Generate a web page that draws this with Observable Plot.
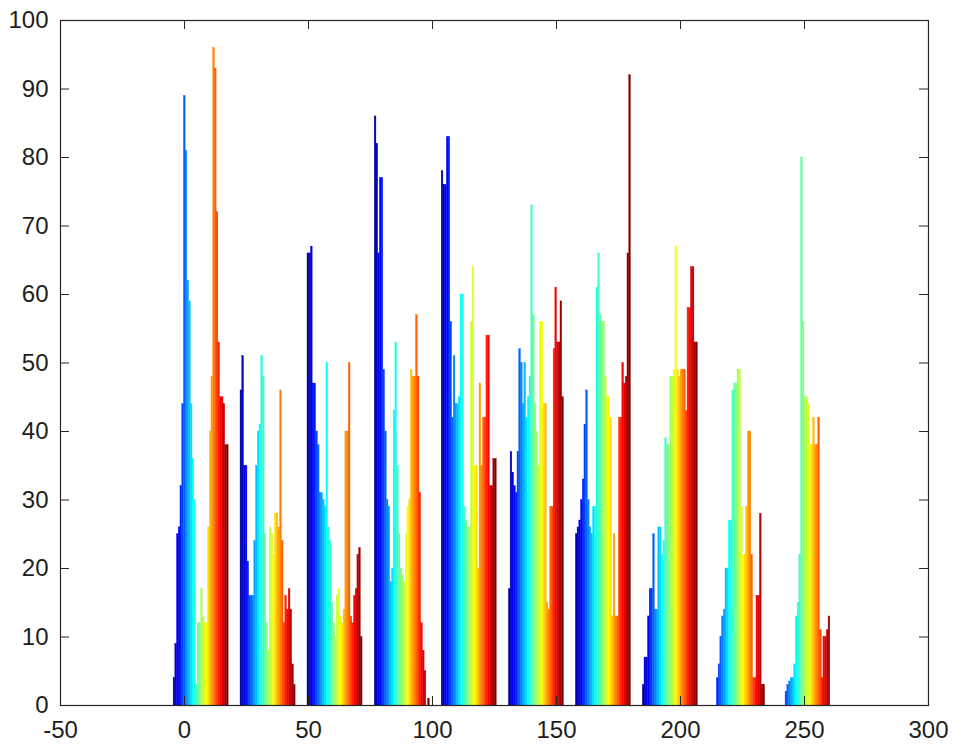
<!DOCTYPE html>
<html>
<head>
<meta charset="utf-8">
<script src="https://cdn.jsdelivr.net/npm/d3@7"></script>
<script src="https://cdn.jsdelivr.net/npm/@observablehq/plot@0.6"></script>
<style>
  html, body { margin: 0; padding: 0; background: #ffffff; }
  #chart svg { display: block; }
</style>
</head>
<body>
<div id="chart"></div>
<script>
// Tick labels
const xTicks = [-50, 0, 50, 100, 150, 200, 250, 300];
const yTicks = [0, 10, 20, 30, 40, 50, 60, 70, 80, 90, 100];

// Group positions on the x axis
const groupCenters = [6.7, 33.7, 60.7, 87.8, 114.8, 141.9, 168.9, 195.9, 223.0, 250.0];

// Bar heights: 32 series per group (series 1..32, coloured by jet)
const g1  = [4, 9, 25, 26, 32, 44, 89, 81, 62, 59, 44, 36, 30, 3, 12, 12, 17, 13, 12, 12, 26, 40, 48, 96, 93, 72, 53, 45, 45, 44, 38, 38];
const g2  = [46, 51, 35, 35, 21, 16, 16, 16, 24, 35, 40, 41, 51, 48, 25, 12, 8, 26, 25, 22, 28, 28, 26, 46, 24, 12, 16, 14, 17, 14, 6, 3];
const g3  = [66, 66, 67, 47, 47, 40, 38, 31, 31, 30, 29, 50, 26, 24, 15, 12, 10, 16, 17, 13, 12, 14, 40, 40, 50, 13, 12, 16, 17, 22, 23, 10];
const g4  = [86, 82, 66, 77, 77, 49, 40, 30, 29, 18, 20, 43, 53, 35, 25, 20, 19, 18, 25, 29, 30, 49, 48, 48, 57, 48, 31, 12, 8, 5, 0, 1];
const g5  = [78, 76, 76, 83, 83, 56, 42, 51, 44, 44, 45, 60, 60, 29, 27, 26, 26, 56, 64, 35, 35, 20, 47, 35, 42, 42, 54, 54, 32, 32, 36, 36];
const g6  = [17, 37, 34, 32, 31, 37, 52, 50, 44, 50, 42, 45, 48, 73, 57, 44, 40, 35, 56, 56, 44, 44, 15, 14, 29, 29, 52, 61, 53, 53, 59, 45];
const g7  = [25, 26, 27, 30, 33, 41, 46, 30, 26, 25, 29, 29, 61, 66, 57, 56, 56, 48, 45, 45, 42, 13, 25, 13, 13, 42, 42, 50, 47, 48, 66, 92];
const g8  = [3, 7, 7, 13, 17, 17, 25, 14, 14, 26, 26, 22, 24, 39, 38, 38, 48, 48, 49, 67, 49, 48, 49, 49, 49, 43, 58, 58, 64, 64, 53, 53];
const g9  = [0, 0, 0, 0, 4, 6, 10, 13, 14, 20, 20, 27, 27, 46, 47, 47, 49, 49, 29, 22, 22, 29, 40, 40, 22, 4, 4, 16, 16, 28, 3, 3];
const g10 = [0, 0, 0, 0, 0, 2, 3, 3.5, 4, 4, 6, 13, 15, 22, 80, 56, 45, 45, 44, 38, 38, 42, 38, 38, 42, 11, 4, 10, 10, 11, 13, 0];

const groups = [g1, g2, g3, g4, g5, g6, g7, g8, g9, g10];
const nSeries = 32;
const groupWidth = 22.2;
const barWidth = groupWidth / nSeries;

const data = groups.flatMap((vals, k) => vals.map((v, i) => ({k, i, v})));

// MATLAB "jet" colormap
function jet(t) {
  const c = x => Math.max(0, Math.min(1, x));
  const r = c(Math.min(4 * t - 1.5, -4 * t + 4.5));
  const g = c(Math.min(4 * t - 0.5, -4 * t + 3.5));
  const b = c(Math.min(4 * t + 0.5, -4 * t + 2.5));
  return `rgb(${Math.round(r * 255)},${Math.round(g * 255)},${Math.round(b * 255)})`;
}

const W = 962, H = 751;
const mL = 60, mR = 34, mT = 20, mB = 46;
const innerW = W - mL - mR, innerH = H - mT - mB;
const tickLen = 9;

const chart = Plot.plot({
  width: W,
  height: H,
  marginLeft: mL,
  marginRight: mR,
  marginTop: mT,
  marginBottom: mB,
  style: {fontFamily: "'Liberation Sans', Arial, sans-serif", fontSize: "24px", color: "#1e1e1e", background: "#ffffff"},
  x: {domain: [-50, 300], ticks: xTicks, tickSize: 0, tickPadding: 15, tickFormat: d => String(d), label: null},
  y: {domain: [0, 100], ticks: yTicks, tickSize: 0, tickPadding: 12, tickFormat: d => String(d), label: null},
  color: {type: "linear", domain: [-1, nSeries - 1], interpolate: jet},
  marks: [
    Plot.rectY(data, {
      x1: d => groupCenters[d.k] - groupWidth / 2 + d.i * barWidth,
      x2: d => groupCenters[d.k] - groupWidth / 2 + (d.i + 1) * barWidth,
      y1: 0,
      y2: d => d.v,
      fill: d => d.i,
      stroke: d => d.i,
      strokeWidth: 0.35
    }),
    Plot.ruleX(xTicks, {x: d => d, insetTop: innerH - tickLen, stroke: "#262626"}),
    Plot.ruleX(xTicks, {x: d => d, insetBottom: innerH - tickLen, stroke: "#262626"}),
    Plot.ruleY(yTicks, {y: d => d, insetRight: innerW - tickLen, stroke: "#262626"}),
    Plot.ruleY(yTicks, {y: d => d, insetLeft: innerW - tickLen, stroke: "#262626"}),
    Plot.frame({stroke: "#262626", strokeWidth: 1.2})
  ]
});

document.getElementById("chart").appendChild(chart);
</script>
</body>
</html>
